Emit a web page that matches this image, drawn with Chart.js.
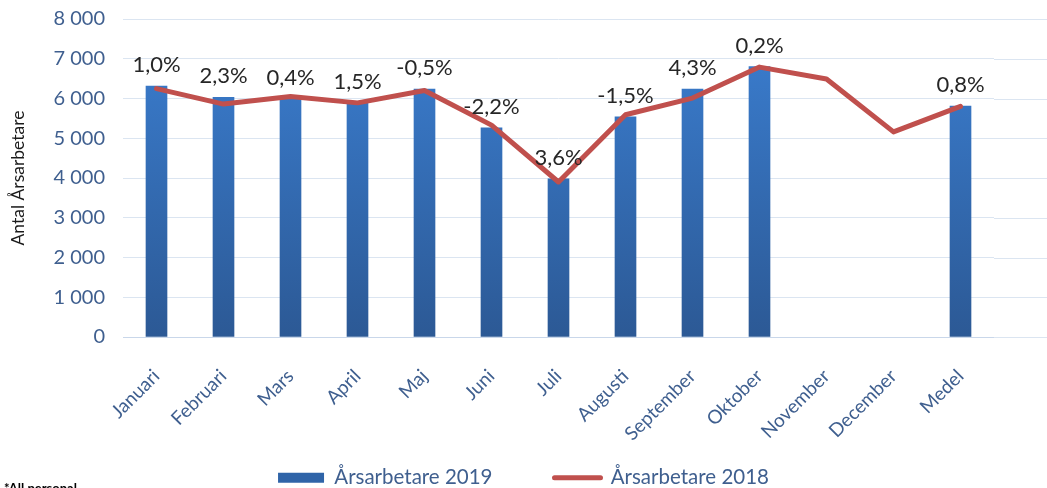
<!DOCTYPE html>
<html>
<head>
<meta charset="utf-8">
<script src="https://cdn.jsdelivr.net/npm/chart.js@4/dist/chart.umd.min.js"></script>
<style>
  html, body { margin: 0; padding: 0; background: #fff; }
  #wrap { width: 1047px; height: 488px; position: relative; }
</style>
</head>
<body>
<div id="wrap"><canvas id="graf"></canvas></div>
<script>
// kategorier och värden
const manader = ['Januari', 'Februari', 'Mars', 'April', 'Maj', 'Juni', 'Juli', 'Augusti', 'September', 'Oktober', 'November', 'December', 'Medel'];
const ars2019 = [6310, 6030, 6000, 5890, 6240, 5260, 3980, 5540, 6240, 6800, -30, null, 5810];
const ars2018 = [6250, 5860, 6050, 5890, 6200, 5330, 3900, 5590, 6010, 6790, 6490, 5160, 5800];
const forandring = ['1,0%', '2,3%', '0,4%', '1,5%', '-0,5%', '-2,2%', '3,6%', '-1,5%', '4,3%', '0,2%', '', '', '0,8%'];
const yTicks = [0, 1000, 2000, 3000, 4000, 5000, 6000, 7000, 8000];

const BLA_TEXT = '#3f5f8f';
const GRID = '#dbe5f1';
const FONT = 'Lato, "Open Sans", sans-serif';

const tusental = v => String(v).replace(/\B(?=(\d{3})+(?!\d))/g, ' ');

// gradient på staplarna
const stapelFarg = (c) => {
    const chart = c.chart;
    const area = chart.chartArea;
    if (!area) return '#3470bd';
    const g = chart.ctx.createLinearGradient(0, area.top, 0, area.bottom);
    g.addColorStop(0, '#3b7fd2');
    g.addColorStop(1, '#2c5995');
    return g;
};

// förläng rutnätet till högerkanten
const rutnat = {
    id: 'rutnat',
    beforeDatasetsDraw(chart) {
        const { ctx, chartArea, scales } = chart;
        ctx.save();
        ctx.strokeStyle = GRID;
        ctx.lineWidth = 1;
        yTicks.forEach(t => {
            const y = Math.round(scales.y.getPixelForValue(t)) + 0.5;
            ctx.beginPath();
            ctx.moveTo(chartArea.right, y);
            ctx.lineTo(chart.width, y);
            ctx.stroke();
        });
        ctx.restore();
    }
};

// procentetiketter ovanför staplarna
const etiketter = {
    id: 'etiketter',
    afterDatasetsDraw(chart) {
        const { ctx } = chart;
        const meta = chart.getDatasetMeta(0);
        ctx.save();
        ctx.font = '22px ' + FONT;
        ctx.fillStyle = '#262626';
        ctx.textAlign = 'center';
        ctx.textBaseline = 'bottom';
        meta.data.forEach((bar, i) => {
            if (!forandring[i]) return;
            ctx.fillText(forandring[i], bar.x, bar.y - 10);
        });
        // fotnot
        ctx.font = 'bold 13px ' + FONT;
        ctx.textAlign = 'left';
        ctx.textBaseline = 'top';
        ctx.fillStyle = '#000';
        ctx.fillText('*All personal', 4, 482);
        ctx.restore();
    }
};

new Chart(document.getElementById('graf'), {
    data: {
        labels: manader,
        datasets: [
            {
                type: 'bar',
                label: 'Årsarbetare 2019',
                data: ars2019,
                backgroundColor: stapelFarg,
                barThickness: 21,
                order: 1
            },
            {
                type: 'line',
                label: 'Årsarbetare 2018',
                data: ars2018,
                borderColor: '#c0504d',
                backgroundColor: '#c0504d',
                borderWidth: 5,
                borderCapStyle: 'round',
                borderJoinStyle: 'round',
                pointRadius: 0,
                tension: 0,
                spanGaps: true,
                order: 0
            }
        ]
    },
    options: {
        responsive: true,
        maintainAspectRatio: false,
        animation: false,
        layout: { padding: { top: 0, right: 0, left: 0, bottom: -10 } },
        plugins: {
            tooltip: { enabled: false },
            legend: {
                position: 'bottom',
                labels: {
                    font: { family: FONT, size: 20.5 },
                    color: BLA_TEXT,
                    usePointStyle: true,
                    pointStyleWidth: 46,
                    boxHeight: 10,
                    padding: 62,
                    sort: (a, b) => a.datasetIndex - b.datasetIndex,
                    generateLabels: (chart) => {
                        const l = Chart.defaults.plugins.legend.labels.generateLabels(chart);
                        l.forEach(it => {
                            if (it.datasetIndex === 0) { it.pointStyle = 'rect'; it.fillStyle = '#2f64a8'; it.strokeStyle = '#2f64a8'; it.lineWidth = 0; }
                            else { it.pointStyle = 'line'; it.strokeStyle = '#c0504d'; it.lineWidth = 5; it.lineCap = 'round'; }
                        });
                        return l;
                    }
                }
            }
        },
        scales: {
            x: {
                grid: { display: false },
                border: { display: true, color: '#c9d7ea' },
                ticks: {
                    color: BLA_TEXT,
                    font: { family: FONT, size: 19 },
                    minRotation: 45,
                    maxRotation: 45,
                    padding: 20
                },
                afterFit: s => {
                    s.height = 68.5;
                    s.paddingRight = 53;
                    // låt de roterade etiketterna gå under legendens kant
                    s._computeLabelArea = () => null;
                }
            },
            y: {
                min: 0,
                max: 8000,
                afterBuildTicks: s => { s.ticks = yTicks.map(v => ({ value: v })); },
                grid: { color: GRID, drawTicks: true, tickLength: 11, tickColor: 'rgba(0,0,0,0)' },
                border: { display: false },
                ticks: {
                    color: BLA_TEXT,
                    font: { family: FONT, size: 20 },
                    padding: 7,
                    callback: v => tusental(v)
                },
                title: {
                    display: true,
                    text: 'Antal Årsarbetare',
                    color: '#1a1a1a',
                    font: { family: FONT, size: 17.5 },
                    padding: { top: 8, bottom: 0 }
                },
                afterFit: s => { s.width = 123; }
            }
        }
    },
    plugins: [rutnat, etiketter]
});
</script>
</body>
</html>
